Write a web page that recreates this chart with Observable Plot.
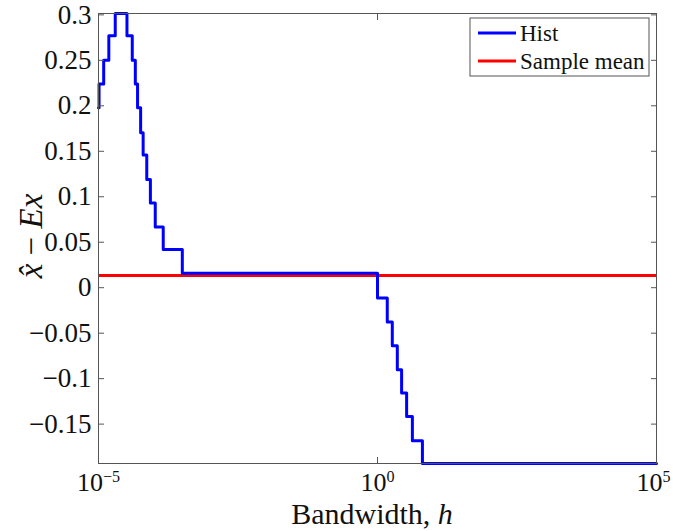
<!DOCTYPE html>
<html>
<head>
<meta charset="utf-8">
<script src="https://cdn.jsdelivr.net/npm/d3@7"></script>
<script src="https://cdn.jsdelivr.net/npm/@observablehq/plot@0.6"></script>
<style>
  html, body { margin: 0; padding: 0; background: #fff; }
  #chart { width: 673px; height: 531px; }
</style>
</head>
<body>
<div id="chart"></div>
<script>
// Bandwidth exponents (log10 h) where each step level of "Hist" begins
const histExponents = [-5, -4.99, -4.907, -4.815, -4.70, -4.49, -4.395, -4.34, -4.30, -4.245, -4.20, -4.135, -4.07, -3.983, -3.84, -3.498, 0, 0.175, 0.265, 0.355, 0.432, 0.522, 0.625, 0.805, 5];
// Value of x̂ − Ex on each step
const histValues = [0.198, 0.224, 0.250, 0.277, 0.3015, 0.277, 0.250, 0.224, 0.198, 0.1705, 0.146, 0.119, 0.093, 0.0667, 0.042, 0.016, -0.0112, -0.0377, -0.0637, -0.0901, -0.1159, -0.1415, -0.1683, -0.1933, -0.1933];
const sampleMean = 0.0135;
const xTicks = [1e-5, 1, 1e5];
const yTicks = [-0.15, -0.1, -0.05, 0, 0.05, 0.1, 0.15, 0.2, 0.25, 0.3];
const seriesNames = ["Hist", "Sample mean"];
const seriesColors = ["#0000ff", "#ff0000"];

const hist = histExponents.map((e, i) => ({h: Math.pow(10, e), v: histValues[i]}));
const yDomain = d3.extent(histValues);
const axisColor = "#555";
const font = "'Liberation Serif', 'Times New Roman', serif";

const fmtY = d => {
  const r = Math.round(d * 100) / 100;
  return (r < 0 ? "\u2212" : "") + String(Math.abs(r));
};

const plot = Plot.plot({
  width: 673,
  height: 531,
  marginLeft: 98,
  marginRight: 17,
  marginTop: 13,
  marginBottom: 68,
  style: {fontFamily: font, fontSize: "27px", color: "#111", background: "#fff"},
  x: {type: "log", domain: [1e-5, 1e5]},
  y: {domain: yDomain},
  marks: [
    Plot.ruleY([sampleMean], {stroke: seriesColors[1], strokeWidth: 3}),
    Plot.line(hist, {x: "h", y: "v", curve: "step-after", stroke: seriesColors[0], strokeWidth: 3}),
    Plot.frame({stroke: axisColor, strokeWidth: 1}),
    // labels
    Plot.axisY(yTicks, {anchor: "left", tickSize: 0, tickPadding: 7, tickFormat: fmtY, label: null, fontSize: 27}),
    Plot.axisX(xTicks, {anchor: "bottom", tickSize: 0, tickPadding: 9, tickFormat: d => String(Math.round(Math.log10(d))), label: null, fontSize: 26}),
    // inward ticks
    Plot.axisY(yTicks, {anchor: "left", tickSize: -6, tickFormat: () => "", label: null, stroke: axisColor}),
    Plot.axisY(yTicks, {anchor: "right", tickSize: -6, tickFormat: () => "", label: null, stroke: axisColor}),
    Plot.axisX(xTicks, {anchor: "bottom", tickSize: -6, tickFormat: () => "", label: null, stroke: axisColor}),
    Plot.axisX(xTicks, {anchor: "top", tickSize: -6, tickFormat: () => "", label: null, stroke: axisColor})
  ]
});

const svg = d3.select(plot);

// superscript exponents on x tick labels
const xLabels = svg.selectAll('g[aria-label="x-axis tick label"] text').filter(function() { return d3.select(this).text() !== ""; });
const nX = xLabels.size();
xLabels.each(function(_, i) {
  const t = d3.select(this);
  const e = t.text();
  const exp = e.startsWith("-") ? "\u2212" + e.slice(1) : e;
  t.text("10");
  t.append("tspan").attr("dy", "-0.55em").attr("font-size", "0.62em").text(exp);
  if (i === nX - 1) t.attr("dx", -3);
});

// axis titles
svg.append("text")
  .attr("x", 372).attr("y", 524)
  .attr("text-anchor", "middle")
  .style("font-family", font).style("font-size", "30px").attr("fill", "#111")
  .call(t => { t.append("tspan").text("Bandwidth, "); t.append("tspan").attr("font-style", "italic").text("h"); });

svg.append("text")
  .attr("transform", "translate(42,236) rotate(-90)")
  .attr("text-anchor", "middle")
  .style("font-family", font).style("font-size", "33px").attr("fill", "#111")
  .call(t => {
    t.append("tspan").attr("font-style", "italic").text("x\u0302");
    t.append("tspan").text(" \u2212 ");
    t.append("tspan").attr("font-style", "italic").text("Ex");
  });

// legend
const lg = svg.append("g").style("font-family", font).style("font-size", "23px").attr("text-anchor", "start");
lg.append("rect").attr("x", 470).attr("y", 18).attr("width", 179).attr("height", 58)
  .attr("fill", "#fff").attr("stroke", axisColor).attr("stroke-width", 1);
seriesNames.forEach((name, i) => {
  const y = 33 + i * 28;
  lg.append("line").attr("x1", 478).attr("x2", 516).attr("y1", y).attr("y2", y)
    .attr("stroke", seriesColors[i]).attr("stroke-width", 3);
  lg.append("text").attr("x", 520).attr("y", y + 8).attr("text-anchor", "start").attr("fill", "#111").text(name);
});

document.getElementById("chart").appendChild(plot);
</script>
</body>
</html>
